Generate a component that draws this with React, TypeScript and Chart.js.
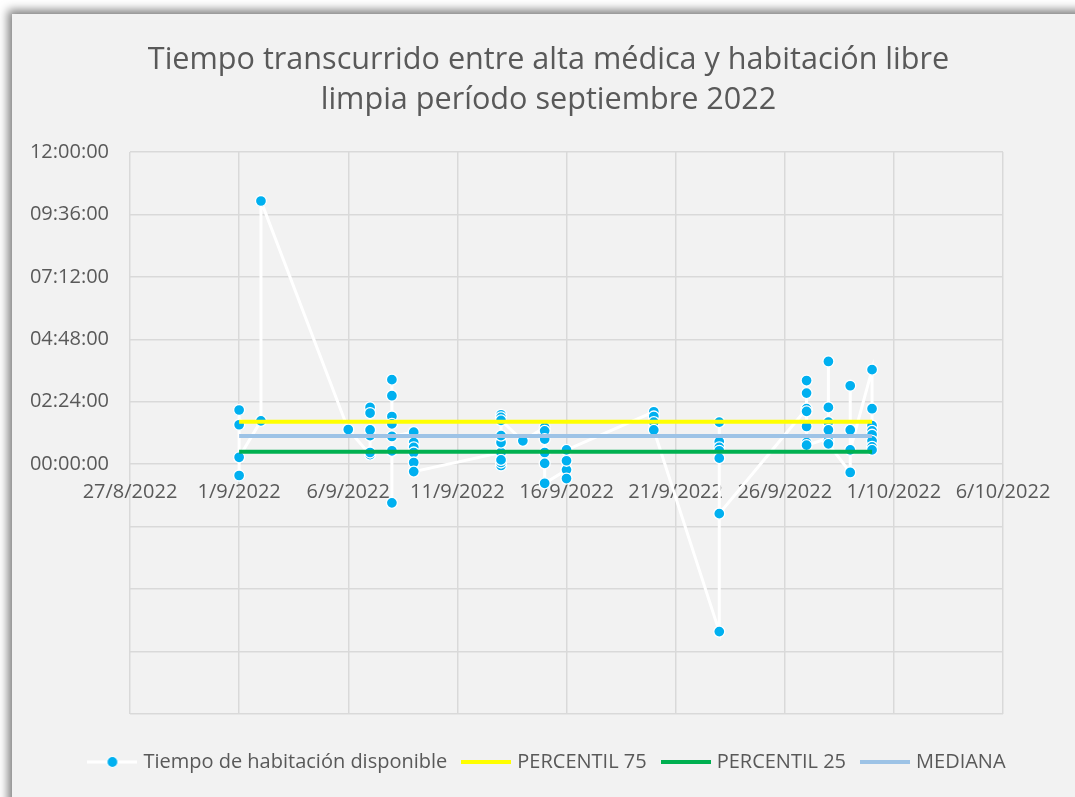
import React, { useEffect, useRef } from 'react';
import { Chart, registerables } from 'chart.js';

Chart.register(...registerables);

const FONT = "'Open Sans', 'Noto Sans', sans-serif";
const TEXT = '#595959';

const titleLines = ['Tiempo transcurrido entre alta médica y habitación libre', 'limpia período septiembre 2022'];
const seriesNames = ['Tiempo de habitación disponible', 'PERCENTIL 75', 'PERCENTIL 25', 'MEDIANA'];

// Days with records and the minutes measured on each (in plotted order)
const dayLabels = ['1/9/2022', '2/9/2022', '6/9/2022', '7/9/2022', '8/9/2022', '9/9/2022', '13/9/2022', '14/9/2022', '15/9/2022', '16/9/2022', '20/9/2022', '23/9/2022', '27/9/2022', '28/9/2022', '29/9/2022', '30/9/2022'];
const dayMinutes = [
  [125, -26, 91, 16],
  [100, 607],
  [80],
  [22, 131, 118, 66, 79, 27],
  [31, 195, 158, -89, 110, 93, 64],
  [74, 50, 39, 27, 4, -17],
  [27, -3, 4, 10, 50, 66, 114, 108, 101],
  [54],
  [85, 77, 58, 27, 2, -44],
  [-13, -33, 8, 33],
  [121, 110, 97, 79],
  [-386, 97, 52, 39, 31, 14, -114],
  [128, 193, 164, 122, 87, 50, 44],
  [60, 237, 131, 97, 79, 54, 47],
  [-19, 181, 79, 33],
  [218, 128, 89, 77, 68, 54, 40, 33],
];

const percentil75 = 98;
const percentil25 = 29;
const mediana = 65;

const xBaseDate = '27/8/2022';
const xTickLabels = ['27/8/2022', '1/9/2022', '6/9/2022', '11/9/2022', '16/9/2022', '21/9/2022', '26/9/2022', '1/10/2022', '6/10/2022'];
const yTickLabels = ['', '', '', '', '00:00:00', '02:24:00', '04:48:00', '07:12:00', '09:36:00', '12:00:00'];

const toUTC = (s: string) => {
  const [d, m, y] = s.split('/').map(Number);
  return Date.UTC(y, m - 1, d);
};
const dayOffset = (s: string) => (toUTC(s) - toUTC(xBaseDate)) / 86400000;

function makeLegendImages() {
  const mk = (w: number, h: number, draw: (c: CanvasRenderingContext2D) => void) => {
    const cv = document.createElement('canvas');
    cv.width = w;
    cv.height = h;
    const c = cv.getContext('2d')!;
    draw(c);
    return cv;
  };
  const main = mk(50, 14, (c) => {
    c.fillStyle = '#ffffff';
    c.fillRect(0, 5.5, 50, 3);
    c.beginPath();
    c.arc(25, 7, 5.5, 0, Math.PI * 2);
    c.fillStyle = '#00B0F0';
    c.fill();
    c.lineWidth = 1.2;
    c.strokeStyle = '#ffffff';
    c.stroke();
  });
  const line = (col: string) =>
    mk(50, 4, (c) => {
      c.fillStyle = col;
      c.fillRect(0, 0, 50, 4);
    });
  return [main, line('#FFFF00'), line('#00B050'), line('#9DC3E6')];
}

export default function App() {
  const ref = useRef<HTMLCanvasElement | null>(null);

  useEffect(() => {
    if (!ref.current) return;
    const mainPoints: { x: number; y: number }[] = [];
    dayLabels.forEach((d, i) => {
      dayMinutes[i].forEach((v) => mainPoints.push({ x: dayOffset(d), y: v }));
    });
    const x0 = dayOffset(dayLabels[0]);
    const x1 = dayOffset(dayLabels[dayLabels.length - 1]);
    const hline = (v: number) => [
      { x: x0, y: v },
      { x: x1, y: v },
    ];
    const imgs = makeLegendImages();

    const chart = new Chart(ref.current, {
      type: 'scatter',
      data: {
        datasets: [
          {
            label: seriesNames[0],
            data: mainPoints,
            showLine: true,
            borderColor: '#ffffff',
            borderWidth: 3,
            pointRadius: 5.5,
            pointBorderWidth: 1.3,
            pointBorderColor: '#ffffff',
            pointBackgroundColor: '#00B0F0',
            order: 10,
          },
          {
            label: seriesNames[1],
            data: hline(percentil75),
            showLine: true,
            borderColor: '#FFFF00',
            borderWidth: 4,
            pointRadius: 0,
            order: 3,
          },
          {
            label: seriesNames[2],
            data: hline(percentil25),
            showLine: true,
            borderColor: '#00B050',
            borderWidth: 4,
            pointRadius: 0,
            order: 2,
          },
          {
            label: seriesNames[3],
            data: hline(mediana),
            showLine: true,
            borderColor: '#9DC3E6',
            borderWidth: 4,
            pointRadius: 0,
            order: 1,
          },
        ],
      },
      options: {
        responsive: false,
        animation: false,
        devicePixelRatio: 1,
        layout: { padding: { left: 10, right: 0, top: 0, bottom: 15 } },
        scales: {
          x: {
            type: 'linear',
            position: { y: 0 } as any,
            min: 0,
            max: 40,
            ticks: {
              stepSize: 5,
              padding: 16,
              maxRotation: 0,
              autoSkip: false,
              color: TEXT,
              font: { family: FONT, size: 20 },
              callback: (_v: any, i: number) => xTickLabels[i] ?? '',
            },
            grid: { color: '#D9D9D9', lineWidth: 1.5, drawTicks: false },
            border: { display: false },
          },
          y: {
            type: 'linear',
            position: 'left',
            min: -576,
            max: 720,
            afterFit: (s: any) => {
              s.width = 108;
            },
            ticks: {
              stepSize: 144,
              padding: 21,
              color: TEXT,
              font: { family: FONT, size: 20 },
              callback: (_v: any, i: number) => yTickLabels[i] ?? '',
            },
            grid: { color: '#D9D9D9', lineWidth: 1.5, drawTicks: false },
            border: { display: false },
          },
          yRight: {
            type: 'linear',
            position: 'right',
            display: true,
            afterFit: (s: any) => {
              s.width = 72;
            },
            ticks: { display: false },
            grid: { display: false, drawTicks: false },
            border: { display: false },
          },
        },
        plugins: {
          tooltip: { enabled: false },
          title: {
            display: true,
            text: titleLines,
            color: TEXT,
            font: { family: FONT, size: 30.6, weight: 'normal', lineHeight: 40 / 30.6 },
            padding: { top: 26, bottom: 32 },
          },
          legend: {
            position: 'bottom',
            title: { display: true, text: '', padding: { top: 8, bottom: 0 }, font: { size: 10, lineHeight: 1.2 } },
            labels: {
              usePointStyle: true,
              pointStyleWidth: 42,
              padding: 18,
              color: TEXT,
              font: { family: FONT, size: 20 },
              sort: (a: any, b: any) => a.datasetIndex - b.datasetIndex,
              generateLabels: (ch: any) => {
                const items = (Chart.defaults.plugins.legend.labels as any).generateLabels(ch);
                items.forEach((it: any) => {
                  it.pointStyle = imgs[it.datasetIndex];
                  it.fontColor = TEXT;
                });
                return items;
              },
            },
          },
        },
      } as any,
    });
    return () => chart.destroy();
  }, []);

  return (
    <div style={{ position: 'fixed', left: 0, top: 0, width: 1075, height: 797, overflow: 'hidden', background: '#ffffff' }}>
      <div
        style={{
          position: 'absolute',
          left: 12,
          top: 14,
          width: 1100,
          height: 820,
          background: '#F2F2F2',
          boxShadow: '-2px -2px 9px 2px rgba(0,0,0,0.5)',
        }}
      >
        <canvas ref={ref} width={1063} height={783} style={{ display: 'block' }} />
      </div>
    </div>
  );
}
